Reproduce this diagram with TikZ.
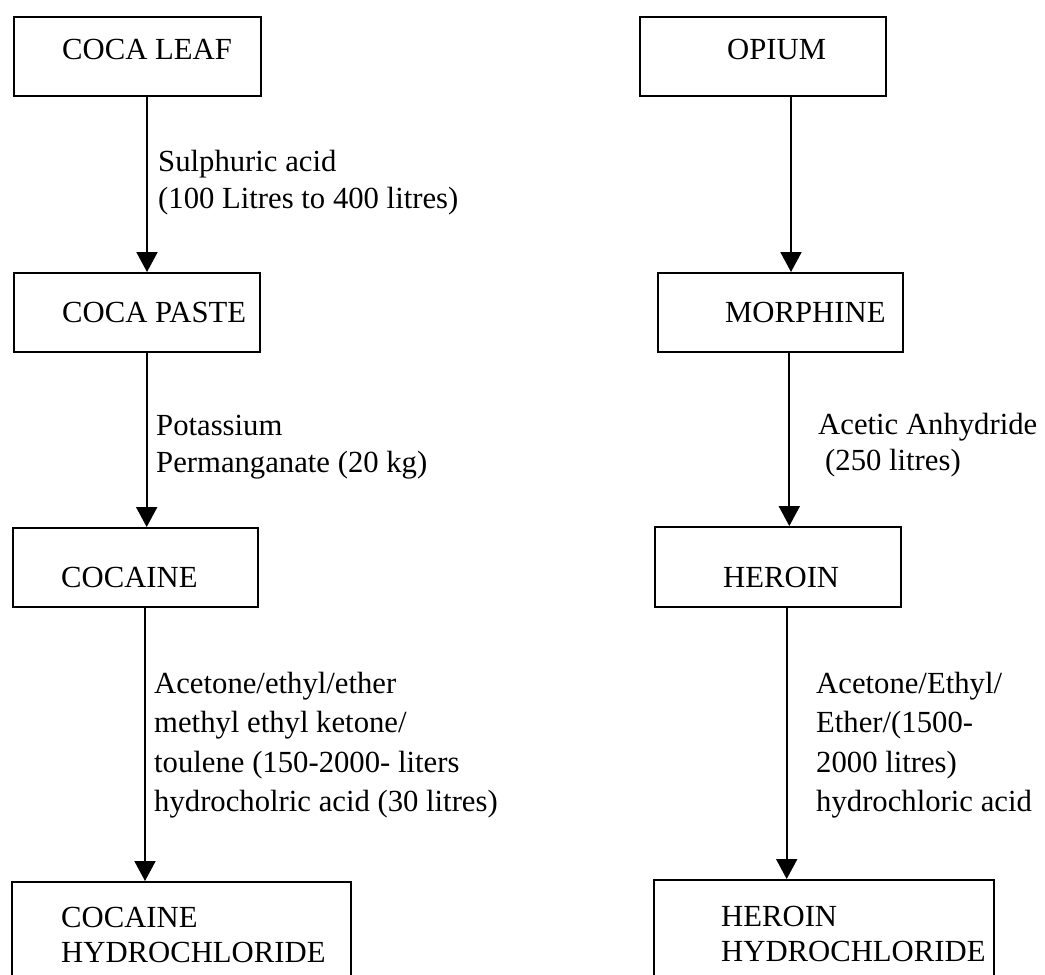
\documentclass[tikz,border=0pt]{standalone}
\usepackage{fontspec}
\setmainfont{Liberation Serif}
\usetikzlibrary{arrows.meta}
\begin{document}
\begin{tikzpicture}[x=1pt,y=-1pt,
  box/.style={draw,line width=2pt,minimum height=79pt,inner sep=0pt},
  txt/.style={anchor=base west,inner sep=0pt,font=\fontsize{30.7}{37}\selectfont},
  arr/.style={line width=2pt,-{Triangle[length=20pt,width=21pt]}}]
\clip (0,0) rectangle (1045,975);
% boxes
\node[box,minimum width=247pt] (cl) at (137.5,56.5) {};
\node[box,minimum width=246pt] (cp) at (137,312.5) {};
\node[box,minimum width=245pt] (co) at (135.5,567.5) {};
\node[box,minimum width=339pt,minimum height=118pt] (ch) at (181.5,941) {};
\node[box,minimum width=246pt] (op) at (763,56.5) {};
\node[box,minimum width=245pt] (mo) at (780.5,312.5) {};
\node[box,minimum width=246pt,minimum height=80pt] (he) at (778,567) {};
\node[box,minimum width=340pt,minimum height=120pt] (hh) at (824,940) {};
% box texts
\node[txt] (tcl) at (62,59) {COCA LEAF};
\node[txt] (tcp) at (62,322) {COCA PASTE};
\node[txt] (tco) at (61,587) {COCAINE};
\node[txt] (tch) at (61,927) {\vtop{\baselineskip=35pt\hbox{COCAINE}\hbox{HYDROCHLORIDE}}};
\node[txt] (top) at (727,59) {OPIUM};
\node[txt] (tmo) at (725,322) {MORPHINE};
\node[txt] (the) at (723,587) {HEROIN};
\node[txt] (thh) at (721,926) {\vtop{\baselineskip=35pt\hbox{HEROIN}\hbox{HYDROCHLORIDE}}};
% arrows
\draw[arr] ([xshift=9.5pt]cl.south) -- ([xshift=9.5pt]cl.south |- cp.north);
\draw[arr] ([xshift=9.7pt]cp.south) -- ([xshift=9.7pt]cp.south |- co.north);
\draw[arr] ([xshift=9.5pt]co.south) -- ([xshift=9.5pt]co.south |- ch.north);
\draw[arr] ([xshift=28pt]op.south) -- ([xshift=28pt]op.south |- mo.north);
\draw[arr] ([xshift=8.8pt]mo.south) -- ([xshift=8.8pt]mo.south |- he.north);
\draw[arr] ([xshift=8.7pt]he.south) -- ([xshift=8.7pt]he.south |- hh.north);
% labels
\node[txt] (l1) at (158,171) {\vtop{\baselineskip=37pt\hbox{Sulphuric acid}\hbox{(100 Litres to 400 litres)}}};
\node[txt] (l2) at (156,435) {\vtop{\baselineskip=37pt\hbox{Potassium}\hbox{Permanganate (20 kg)}}};
\node[txt] (l3) at (154,693) {\vtop{\baselineskip=39.5pt\hbox{Acetone/ethyl/ether}\hbox{methyl ethyl ketone/}\hbox{toulene (150-2000- liters}\hbox{hydrocholric acid (30 litres)}}};
\node[txt] (r2) at (818,434) {\vtop{\baselineskip=36pt\hbox{Acetic Anhydride}\hbox{\hspace{7pt}(250 litres)}}};
\node[txt] (r3) at (816,693) {\vtop{\baselineskip=39.5pt\hbox{Acetone/Ethyl/}\hbox{Ether/(1500-}\hbox{2000 litres)}\hbox{hydrochloric acid}}};
\end{tikzpicture}
\end{document}
